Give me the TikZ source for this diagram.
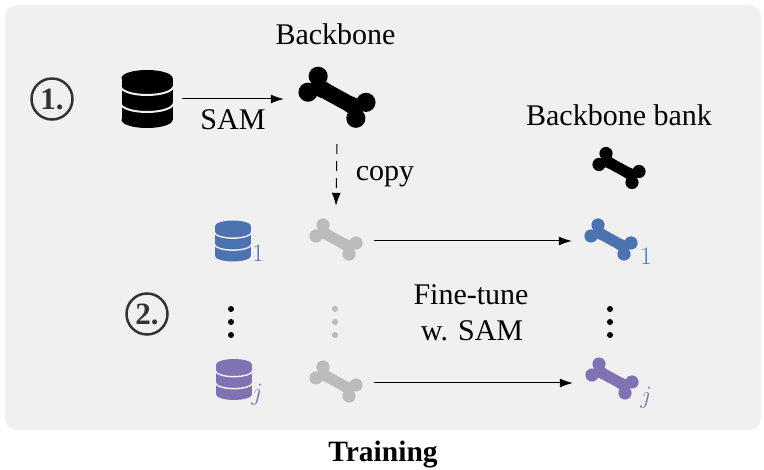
\documentclass[tikz,border=0pt]{standalone}
\usepackage{fontspec}
\setmainfont{Liberation Serif}
\usetikzlibrary{arrows.meta}
\definecolor{panelbg}{HTML}{F0F0F0}
\definecolor{ablue}{HTML}{4C72B0}
\definecolor{apurple}{HTML}{8172B3}
\definecolor{agray}{HTML}{BBBBBB}
\definecolor{adark}{HTML}{333333}
\newcommand{\bonedraw}[4]{%
  \begin{scope}[shift={(#1,#2)},scale=#3]
    \fill[#4] (-13,-15) circle[radius=6.6] (-20,-4) circle[radius=6.6]
              (20,3) circle[radius=6.6] (13,14) circle[radius=6.6];
    \fill[#4] (-13,-15) -- (-4.4,-9.2) -- (9.65,-1.5) -- (20,3) -- (13,14)
              -- (4.4,8.2) -- (-9.65,0.5) -- (-20,-4) -- cycle;
  \end{scope}}
\newcommand{\dbdraw}[4]{%
  \begin{scope}[shift={(#1,#2)},scale=#3]
    \fill[#4] (0,-21) ellipse[x radius=25.5,y radius=8];
    \fill[#4] (0,21) ellipse[x radius=25.5,y radius=8];
    \fill[#4] (-25.5,-21) rectangle (25.5,21);
    \draw[panelbg,line width=#3*2pt] (-27,-14) .. controls (-27,-0.7) and (27,-0.7) .. (27,-14);
    \draw[panelbg,line width=#3*2pt] (-27,3) .. controls (-27,16.3) and (27,16.3) .. (27,3);
  \end{scope}}
\tikzset{
  lbl/.style={inner sep=0pt,anchor=base,font=\fontsize{30}{34}\selectfont},
  boldlbl/.style={lbl,font=\fontsize{29.5}{34}\selectfont\bfseries},
  sublbl/.style={inner sep=0pt,anchor=base,font=\fontsize{34}{38}\selectfont},
  steplbl/.style={circle,draw=adark,line width=2.5pt,text=adark,minimum size=41pt,inner sep=0pt,font=\fontsize{31}{34}\selectfont\bfseries},
  icon/.style={inner sep=0pt,minimum width=#1,rectangle},
  flow/.style={-{Latex[length=13pt,width=9pt]},line width=1pt,black},
  dot/.style={circle,inner sep=0pt,minimum size=6pt}
}
\begin{document}
\begin{tikzpicture}[x=1pt,y=-1pt]
\useasboundingbox (0,0) rectangle (764,470);
\fill[white] (0,0) rectangle (764,470);
\fill[panelbg,rounded corners=12pt] (5,5) rectangle (761,430);

\dbdraw{147}{99}{1}{black}
\dbdraw{233}{241}{0.706}{ablue}
\dbdraw{234}{379.5}{0.706}{apurple}
\bonedraw{337}{98}{1.45}{black}
\bonedraw{336}{240}{1}{agray}
\bonedraw{336}{382}{1}{agray}
\bonedraw{619}{168.5}{1}{black}
\bonedraw{611}{240}{1}{ablue}
\bonedraw{612}{379}{1}{apurple}

\node[icon=70pt,minimum height=20pt] (dbmain) at (147,99) {};
\node[icon=106pt,minimum height=92pt] (bbmain) at (337,98) {};
\node[icon=76pt,minimum height=68pt] (graya) at (336,240) {};
\node[icon=76pt,minimum height=68pt] (grayb) at (336,382) {};
\node[icon=78pt,minimum height=20pt] (bluebone) at (611,241) {};
\node[icon=78pt,minimum height=20pt] (purplebone) at (612,383) {};

\draw[flow] (dbmain.east) -- (bbmain.west |- dbmain.east);
\draw[flow,dash pattern=on 10pt off 7pt] (bbmain.south) -- (graya.north);
\draw[flow] (graya.east |- bluebone.west) -- (bluebone.west);
\draw[flow] (grayb.east |- purplebone.west) -- (purplebone.west);

\node[lbl] (tbackbone) at (335.5,45) {Backbone};
\node[lbl] (tsam) at (233,130) {SAM};
\node[lbl] (tcopy) at (385,181) {copy};
\node[lbl] (tbank) at (619,126) {Backbone bank};
\node[lbl] (tfine) at (471,305) {Fine-tune};
\node[lbl] (twsam) at (472,341) {w. SAM};
\node[boldlbl] (ttrain) at (383,462) {Training};

\node[steplbl] (stepa) at (52,99) {1.};
\node[steplbl] (stepb) at (147,314) {2.};

\node[sublbl,text=ablue] (subdba) at (258,262) {$1$};
\node[sublbl,text=apurple] (subdbb) at (257,401) {$j$};
\node[sublbl,text=ablue] (subbba) at (646,265) {$1$};
\node[sublbl,text=apurple] (subbbb) at (646,404) {$j$};

\foreach \i/\yy in {a/309,b/322,c/335}{
  \node[dot,fill=black] (dl\i) at (231,\yy) {};
  \node[dot,fill=agray] (dm\i) at (335,\yy) {};
  \node[dot,fill=black] (dr\i) at (610,\yy) {};
}
\end{tikzpicture}
\end{document}
